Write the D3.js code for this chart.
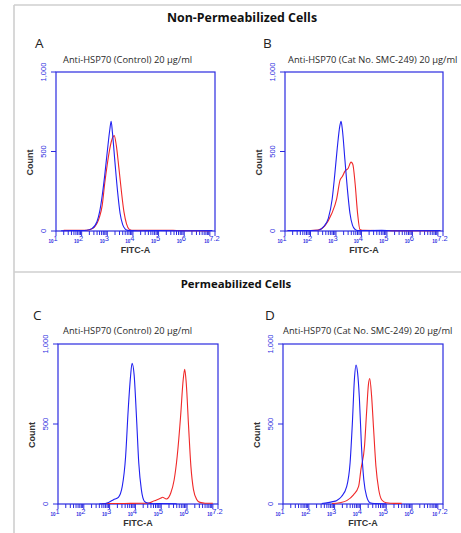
<!DOCTYPE html>
<html><head><meta charset="utf-8">
<script src="https://cdn.jsdelivr.net/npm/d3@7"></script>
<style>body{margin:0;background:#fff}svg{display:block}</style></head>
<body><svg id="c" width="461" height="533"></svg>
<script>
// ---------- data ----------
const sectionTitles = ["Non-Permeabilized Cells", "Permeabilized Cells"];
const panelLetters = ["A", "B", "C", "D"];
const panelTitles = [
  "Anti-HSP70 (Control) 20 µg/ml",
  "Anti-HSP70 (Cat No. SMC-249) 20 µg/ml",
  "Anti-HSP70 (Control) 20 µg/ml",
  "Anti-HSP70 (Cat No. SMC-249) 20 µg/ml"
];
const xTickExponents = [1, 2, 3, 4, 5, 6, 7.2];
const yTickValues = [0, 500, 1000];
const xAxisTitle = "FITC-A";
const yAxisTitle = "Count";

// [log10(FITC-A), count]
const blueA = [[1.2,2],[1.6,3],[2.0,3],[2.2,5],[2.4,15],[2.6,60],[2.7,120],[2.8,220],[2.9,350],[3.0,500],[3.1,640],[3.15,690],[3.2,620],[3.3,430],[3.4,250],[3.5,110],[3.6,40],[3.7,12],[3.8,4],[4.2,2],[5.0,3],[6.0,2],[7.1,3]];
const redA  = [[1.3,4],[1.8,4],[2.2,5],[2.3,8],[2.5,25],[2.7,90],[2.8,160],[2.9,300],[3.0,420],[3.1,520],[3.2,585],[3.27,600],[3.35,540],[3.45,400],[3.55,250],[3.65,120],[3.75,45],[3.85,12],[4.0,4],[4.6,4],[5.4,5],[5.7,3],[6.5,2],[7.0,2]];
const blueB = [[1.1,3],[1.8,3],[2.3,5],[2.5,25],[2.7,80],[2.85,200],[2.95,350],[3.05,520],[3.15,660],[3.2,690],[3.25,640],[3.35,450],[3.45,260],[3.55,110],[3.65,35],[3.75,10],[3.85,3],[4.8,4],[5.2,2],[7.1,3]];
const redB  = [[1.1,3],[2.0,3],[2.3,6],[2.57,34],[2.83,108],[3.03,204],[3.16,320],[3.25,343],[3.35,375],[3.48,395],[3.59,433],[3.66,420],[3.75,300],[3.85,108],[3.94,10],[4.1,4],[4.9,3],[6.0,2],[7.1,3]];
const blueC = [[2.6,2],[2.71,2],[2.96,10],[3.15,27],[3.34,42],[3.49,110],[3.62,297],[3.72,588],[3.81,796],[3.87,880],[3.95,807],[4.04,547],[4.13,256],[4.23,90],[4.35,17],[4.48,6],[4.7,2],[5.0,3],[5.6,2]];
const redC  = [[2.7,3],[3.2,3],[3.8,4],[4.48,5],[4.73,20],[4.99,37],[5.05,42],[5.2,31],[5.37,69],[5.5,150],[5.62,300],[5.75,547],[5.85,775],[5.91,842],[5.97,755],[6.06,485],[6.15,235],[6.25,90],[6.38,27],[6.5,10],[6.7,5],[7.0,5]];
const blueD = [[2.5,3],[2.93,15],[3.07,21],[3.27,47],[3.47,110],[3.6,258],[3.69,513],[3.77,788],[3.83,869],[3.89,820],[3.96,661],[4.04,364],[4.13,153],[4.24,47],[4.37,8],[4.53,3],[5.0,2]];
const redD  = [[2.9,3],[3.2,8],[3.47,21],[3.73,57],[3.93,110],[4.02,216],[4.16,364],[4.24,576],[4.31,746],[4.36,784],[4.43,682],[4.51,470],[4.6,237],[4.71,89],[4.83,25],[5.0,8],[5.33,4],[5.6,4]];

const panelCurves = [[blueA, redA], [blueB, redB], [blueC, redC], [blueD, redD]];

// ---------- layout ----------
const panels = [
  {l:56,  r:215, t:72,  b:231, lx:35,  ly:48,  tx:63,  ty:63},
  {l:285, r:443, t:72,  b:231, lx:263, ly:48,  tx:288, ty:63},
  {l:58,  r:218, t:344, b:504, lx:33,  ly:320, tx:63,  ty:334},
  {l:283, r:443, t:344, b:504, lx:265, ly:320, tx:283, ty:334}
];
const sectionPos = [{x:242, y:22, size:12.4}, {x:236, y:288, size:11.4}];
const AXIS = "#2a2ae0", BLUE = "#2020f0", RED = "#f02828";

const svg = d3.select("#c");

// frame lines
const frame = svg.append("g").attr("stroke", "#cfcfcf").attr("stroke-width", 1.6).attr("fill", "none");
frame.append("line").attr("x1", 14).attr("y1", 5).attr("x2", 14).attr("y2", 533);
frame.append("line").attr("x1", 14).attr("y1", 5).attr("x2", 461).attr("y2", 5);
frame.append("line").attr("x1", 14).attr("y1", 272).attr("x2", 461).attr("y2", 272);

svg.selectAll("text.sec").data(sectionTitles).join("text")
  .attr("class", "sec")
  .attr("x", (d, i) => sectionPos[i].x).attr("y", (d, i) => sectionPos[i].y)
  .attr("text-anchor", "middle")
  .attr("font-family", "'Open Sans', sans-serif").attr("font-weight", "bold")
  .attr("font-size", (d, i) => sectionPos[i].size).attr("fill", "#111")
  .text(d => d);

panels.forEach((p, i) => {
  const g = svg.append("g");
  const x = d3.scaleLinear().domain([1, 7.2]).range([p.l, p.r]);
  const y = d3.scaleLinear().domain([0, 1000]).range([p.b, p.t]);

  g.append("text").attr("x", p.lx).attr("y", p.ly)
    .attr("font-family", "'Open Sans', sans-serif").attr("font-size", 13.5).attr("fill", "#222")
    .text(panelLetters[i]);
  g.append("text").attr("x", p.tx).attr("y", p.ty)
    .attr("font-family", "'Open Sans', sans-serif").attr("font-size", 9.3).attr("fill", "#2a2a2a")
    .text(panelTitles[i]);

  // box
  g.append("rect").attr("x", p.l).attr("y", p.t).attr("width", p.r - p.l).attr("height", p.b - p.t)
    .attr("fill", "none").attr("stroke", AXIS).attr("stroke-width", 1.2);

  // x minor/major ticks
  const ticks = [];
  for (let d = 1; d <= 7; d++) {
    ticks.push({v: d, major: true});
    for (let m = 2; m <= 9; m++) {
      const v = d + Math.log10(m);
      if (v < 7.2) ticks.push({v, major: false});
    }
  }
  ticks.push({v: 7.2, major: true});
  g.append("g").selectAll("line").data(ticks).join("line")
    .attr("x1", d => x(d.v)).attr("x2", d => x(d.v))
    .attr("y1", p.b).attr("y2", d => p.b + (d.major ? 5 : 4))
    .attr("stroke", AXIS).attr("stroke-width", 1);

  // x tick labels
  const xl = g.append("g").selectAll("text").data(xTickExponents).join("text")
    .attr("x", d => x(d) - 3).attr("y", p.b + 12)
    .attr("text-anchor", "middle")
    .attr("font-family", "'Liberation Sans', Arial, sans-serif").attr("fill", AXIS);
  xl.append("tspan").attr("font-size", 4.5).attr("font-weight", "bold").text("10");
  xl.append("tspan").attr("font-size", 7.5).attr("dy", -2).text(d => d);

  // y ticks
  g.append("g").selectAll("line").data(yTickValues).join("line")
    .attr("x1", p.l - 5).attr("x2", p.l).attr("y1", d => y(d)).attr("y2", d => y(d))
    .attr("stroke", AXIS).attr("stroke-width", 1);
  g.append("g").selectAll("text").data(yTickValues).join("text")
    .attr("transform", d => `translate(${p.l - 10},${y(d)}) rotate(-90)`)
    .attr("text-anchor", "middle")
    .attr("font-family", "'Liberation Sans', Arial, sans-serif").attr("font-size", 7.5).attr("fill", AXIS)
    .text(d => d3.format(",")(d));

  // axis titles
  g.append("text").attr("x", (p.l + p.r) / 2).attr("y", p.b + 22)
    .attr("text-anchor", "middle")
    .attr("font-family", "'Liberation Sans', Arial, sans-serif").attr("font-size", 9).attr("font-weight", "bold").attr("fill", "#333")
    .text(xAxisTitle);
  g.append("text")
    .attr("transform", `translate(${p.l - 23},${(p.t + p.b) / 2 + 11}) rotate(-90)`)
    .attr("text-anchor", "middle")
    .attr("font-family", "'Liberation Sans', Arial, sans-serif").attr("font-size", 9).attr("font-weight", "bold").attr("fill", "#333")
    .text(yAxisTitle);

  // curves
  const line = d3.line().x(d => x(d[0])).y(d => y(d[1])).curve(d3.curveMonotoneX);
  const [bl, rd] = panelCurves[i];
  g.append("path").datum(rd).attr("d", line).attr("fill", "none").attr("stroke", RED).attr("stroke-width", 1.1);
  g.append("path").datum(bl).attr("d", line).attr("fill", "none").attr("stroke", BLUE).attr("stroke-width", 1.1);
});
</script></body></html>
